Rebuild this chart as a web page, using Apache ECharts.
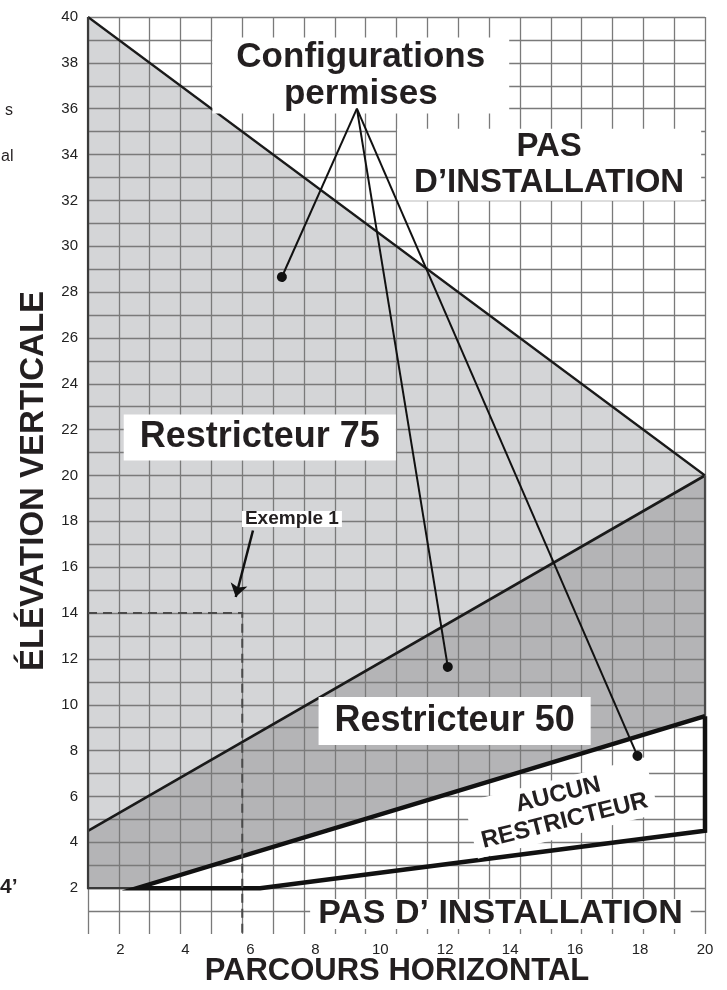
<!DOCTYPE html>
<html lang="fr">
<head>
<meta charset="UTF-8">
<title>Élévation verticale / parcours horizontal</title>
<script src="https://cdn.jsdelivr.net/npm/echarts@6.0.0/dist/echarts.min.js"></script>
<style>
  body { margin: 0; background: #fff; }
  #chart { width: 727px; height: 990px; }
</style>
</head>
<body>
<div id="chart"></div>
<script>
  // points en (parcours horizontal, élévation verticale)
  const zone75 = [[1, 40], [20, 20], [1, 4.5]];
  const zone50 = [[1, 4.5], [20, 20], [20, 9.5], [2.5, 2], [1, 2]];
  const bordHaut = [[1, 40], [20, 20]];
  const bordMilieu = [[1, 4.5], [20, 20]];
  const bordGauche = [[1, 40], [1, 2], [2.5, 2]];
  const bordDroit = [[20, 20], [20, 9.5]];
  const bordAucun = [[20, 9.5], [2.5, 2], [6.3, 2], [20, 4.5], [20, 9.5]];
  const exemple1 = [[1, 14], [5.75, 14], [5.75, 0]];
  const flecheExemple = [[6.08, 17.6], [5.55, 14.7]];
  const origineRenvois = [9.28, 36];
  const renvois = [[6.97, 28.66], [12.08, 11.65], [17.92, 7.77]];
  const etiquettes = [
    { nom: 'Configurations\npermises', pos: [9.4, 37.45] },
    { nom: 'PAS\nD’INSTALLATION', pos: [15.2, 33.55] },
    { nom: 'Restricteur 75', pos: [6.29, 21.66] },
    { nom: 'Restricteur 50', pos: [12.29, 9.29] },
    { nom: 'PAS D’ INSTALLATION', pos: [13.7, 0.87] },
    { nom: 'Exemple 1', pos: [7.28, 18.1] },
    { nom: 'AUCUN\nRESTRICTEUR', pos: [15.58, 5.5] }
  ];

  const police = '"Liberation Sans", Arial, sans-serif';
  const encre = '#231f20';

  // style de chaque etiquette, dans l'ordre du tableau
  const stylesEtiquettes = [
    { fontSize: 35, lineHeight: 37, padding: [1, 24] },
    { fontSize: 33, lineHeight: 36, padding: [0, 17] },
    { fontSize: 36, lineHeight: 44, padding: [1, 16] },
    { fontSize: 36, lineHeight: 44, padding: [2, 16] },
    { fontSize: 34, lineHeight: 30, padding: [0, 8] },
    { fontSize: 19, lineHeight: 16, padding: [0, 3] },
    { fontSize: 24, lineHeight: 27, padding: [2, 8], rotate: 14 }
  ];

  function zone(points, couleur) {
    return {
      type: 'custom',
      z: 1,
      clip: false,
      data: [points[0]],
      renderItem: function (params, api) {
        return {
          type: 'polygon',
          shape: { points: points.map(p => api.coord(p)) },
          style: { fill: couleur }
        };
      }
    };
  }

  function trait(points, couleur, largeur, type) {
    return {
      type: 'line',
      z: 3,
      clip: false,
      symbol: 'none',
      silent: true,
      data: points,
      lineStyle: { color: couleur, width: largeur, type: type || 'solid', join: 'miter' }
    };
  }

  const chart = echarts.init(document.getElementById('chart'));

  chart.setOption({
    backgroundColor: '#fff',
    animation: false,
    textStyle: { fontFamily: police },
    grid: { left: 88, right: 22, top: 17, bottom: 56 },
    xAxis: [
      {
        type: 'value', min: 1, max: 20, interval: 1, z: 2,
        axisLine: { show: false }, axisTick: { show: false }, splitLine: { show: false },
        axisLabel: {
          fontSize: 15, color: '#222', margin: 8,
          formatter: v => (v % 2 === 0 ? String(v) : '')
        }
      },
      {
        // quadrillage : 20 colonnes egales
        type: 'value', min: 0, max: 20, interval: 1, position: 'top', z: 2,
        axisLine: { show: false }, axisTick: { show: false }, axisLabel: { show: false },
        splitLine: { show: true, lineStyle: { color: '#7a7a7a', width: 1.3 } }
      }
    ],
    yAxis: {
      type: 'value', min: 0, max: 40, interval: 1, z: 2,
      axisLine: { show: false }, axisTick: { show: false },
      splitLine: { show: true, showMinLine: false, lineStyle: { color: '#7a7a7a', width: 1.3 } },
      axisLabel: {
        fontSize: 15, color: '#222', margin: 10,
        formatter: v => (v % 2 === 0 && v > 0 ? String(v) : '')
      }
    },
    graphic: [
      {
        type: 'text', x: 34, y: 481, rotation: Math.PI / 2, z: 10,
        style: { text: 'ÉLÉVATION VERTICALE', font: 'bold 33px ' + police, fill: encre, align: 'center', verticalAlign: 'middle' }
      },
      {
        type: 'text', x: 397, y: 971, z: 10,
        style: { text: 'PARCOURS HORIZONTAL', font: 'bold 31px ' + police, fill: encre, align: 'center', verticalAlign: 'middle' }
      },
      { type: 'text', x: 5, y: 111, style: { text: 's', font: '16px ' + police, fill: encre, verticalAlign: 'middle' } },
      { type: 'text', x: 1, y: 157, style: { text: 'al', font: '16px ' + police, fill: encre, verticalAlign: 'middle' } },
      { type: 'text', x: 0, y: 887, style: { text: '4’', font: 'bold 21px ' + police, fill: encre, verticalAlign: 'middle' } }
    ],
    series: [
      zone(zone75, '#d4d5d7'),
      zone(zone50, '#b4b4b6'),
      trait(bordHaut, '#1a1a1a', 2.2),
      trait(bordMilieu, '#1a1a1a', 2.6),
      trait(bordGauche, '#3a3a3a', 2.2),
      trait(bordDroit, '#4a4a4a', 2.2),
      trait(bordAucun, '#111', 4.5),
      trait(exemple1, '#4a4a4a', 2, [9, 6]),
      {
        type: 'lines',
        coordinateSystem: 'cartesian2d',
        z: 9,
        symbol: ['none', 'circle'],
        symbolSize: 10,
        lineStyle: { color: '#111', width: 2, opacity: 1, curveness: 0 },
        data: renvois.map(p => ({ coords: [origineRenvois, p] }))
      },
      {
        type: 'lines',
        coordinateSystem: 'cartesian2d',
        z: 9,
        symbol: ['none', 'arrow'],
        symbolSize: 13,
        lineStyle: { color: '#111', width: 2.5, opacity: 1 },
        data: [{ coords: flecheExemple }]
      },
      {
        type: 'scatter',
        z: 8,
        symbolSize: 1,
        itemStyle: { color: 'rgba(0,0,0,0)', opacity: 1 },
        silent: true,
        data: etiquettes.map((e, i) => ({
          value: e.pos,
          label: Object.assign({
            show: true, position: 'inside', formatter: e.nom, opacity: 1,
            fontWeight: 'bold', color: encre, backgroundColor: '#fff', align: 'center'
          }, stylesEtiquettes[i])
        }))
      }
    ]
  });
</script>
</body>
</html>
